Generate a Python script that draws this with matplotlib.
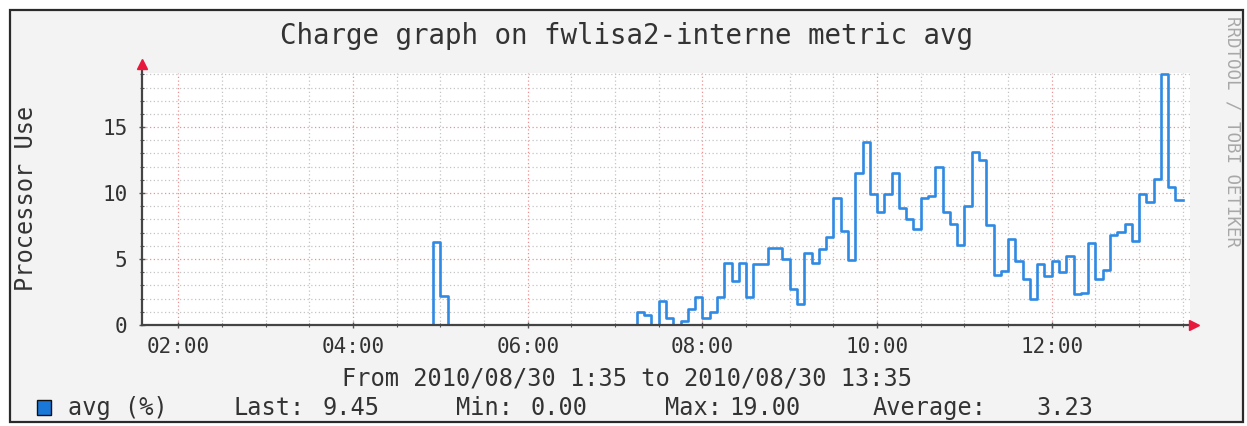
import matplotlib
matplotlib.use('Agg')
import matplotlib.pyplot as plt
from matplotlib.patches import Rectangle
from matplotlib.ticker import MultipleLocator, FixedLocator

# rrdtool "avg" series, one value per 5-minute step starting 2010/08/30 01:35
start_hour = 1 + 35 / 60
step_minutes = 5
avg_values = [
    0, 0, 0, 0, 0, 0, 0, 0, 0, 0,
    0, 0, 0, 0, 0, 0, 0, 0, 0, 0,
    0, 0, 0, 0, 0, 0, 0, 0, 0, 0,
    0, 0, 0, 0, 0, 0, 0, 0, 0, 0,
    6.3, 2.2,
    0, 0, 0, 0, 0, 0, 0, 0, 0, 0,
    0, 0, 0, 0, 0, 0, 0, 0, 0, 0,
    0, 0, 0, 0, 0, 0,
    1.0, 0.75, 0.0, 1.8, 0.5, 0.0, 0.3, 1.2, 2.1, 0.55, 1.0, 2.1,
    4.7, 3.35, 4.7, 2.1, 4.6, 4.6, 5.8, 5.8, 5.0, 2.7, 1.6,
    5.45, 4.67, 5.77, 6.7, 9.6, 7.15, 4.9, 11.5, 13.9,
    9.95, 8.55, 9.95, 11.5, 8.9, 8.05, 7.3, 9.6, 9.75, 12.0,
    8.55, 7.65, 6.1, 9.05, 13.1, 12.5, 7.55,
    3.8, 4.1, 6.5, 4.85, 3.5, 1.95, 4.6, 3.75, 4.85, 4.0, 5.25, 2.35, 2.45,
    6.2, 3.5, 4.15, 6.8, 7.05, 7.65, 6.4, 9.95, 9.3, 11.1, 19.0, 10.45, 9.45,
]

x_ticks = [2, 4, 6, 8, 10, 12]
x_labels = ['02:00', '04:00', '06:00', '08:00', '10:00', '12:00']
y_ticks = [0, 5, 10, 15]

title = 'Charge graph on fwlisa2-interne metric avg'
period = 'From 2010/08/30 1:35 to 2010/08/30 13:35'
# (text, x in px, alignment) for the legend row
legend_items = [('avg (%)', 68, 'left'), ('Last:', 233, 'left'), ('9.45', 380, 'right'),
                ('Min:', 456, 'left'), ('0.00', 588, 'right'), ('Max:', 665, 'left'),
                ('19.00', 800, 'right'), ('Average:', 873, 'left'), ('3.23', 1093, 'right')]

W, H = 1247, 426
mono = 'DejaVu Sans Mono'
txt = '#333333'
line_blue = '#2f8ae4'
arrow_red = '#e8183c'


def fx(x):
    return x / W


def fy(y):
    return 1 - y / H


fig = plt.figure(figsize=(W / 100, H / 100), dpi=100, facecolor='white')
# grey canvas with dark frame, like the screenshot
fig.patches.append(Rectangle((fx(10), fy(422)), fx(1243) - fx(10), fy(10) - fy(422),
                             transform=fig.transFigure, facecolor='#f3f3f3',
                             edgecolor='#2a2a2a', linewidth=1.6, zorder=-10))

ax = fig.add_axes([fx(142), fy(325), fx(1190) - fx(142), fy(73) - fy(325)])
ax.set_facecolor('white')

times = [start_hour + i * step_minutes / 60 for i in range(len(avg_values) + 1)]
ax.plot(times, avg_values + [avg_values[-1]], drawstyle='steps-post',
        color=line_blue, lw=1.9, zorder=3)

ax.set_xlim(start_hour, 13 + 35 / 60)
ax.set_ylim(0, 19.1)

ax.xaxis.set_major_locator(FixedLocator(x_ticks))
ax.xaxis.set_minor_locator(MultipleLocator(0.5))
ax.set_xticklabels(x_labels)
ax.yaxis.set_major_locator(FixedLocator(y_ticks))
ax.yaxis.set_minor_locator(MultipleLocator(1))

ax.grid(which='minor', color='#c4c4c4', linestyle=(0, (1, 2)), lw=0.9)
ax.grid(which='major', color='#f09090', linestyle=(0, (1, 2)), lw=0.9)
ax.set_axisbelow(True)

for s in ax.spines.values():
    s.set_visible(False)

ax.tick_params(which='both', color='#555555', direction='inout', labelcolor=txt)
ax.tick_params(which='major', length=5, width=1)
ax.tick_params(which='minor', length=3, width=0.8)
ax.tick_params(axis='x', pad=6)
ax.tick_params(axis='y', pad=8)
for lab in ax.get_xticklabels() + ax.get_yticklabels():
    lab.set_fontfamily(mono)
    lab.set_fontsize(15)

# axes with rrdtool arrows
ax.plot([0, 0], [0, 1.035], transform=ax.transAxes, color='#444444', lw=1.6,
        clip_on=False, zorder=4)
ax.plot([0, 1.004], [0, 0], transform=ax.transAxes, color='#444444', lw=1.6,
        clip_on=False, zorder=4)
ax.plot([0], [1.035], transform=ax.transAxes, marker='^', color=arrow_red,
        markersize=7, clip_on=False, zorder=5)
ax.plot([1.004], [0], transform=ax.transAxes, marker='>', color=arrow_red,
        markersize=7, clip_on=False, zorder=5)

fig.text(fx(626), fy(36), title, family=mono, fontsize=19.8, color=txt,
         ha='center', va='center')
fig.text(fx(26), fy(198), 'Processor Use', family=mono, fontsize=17, color=txt,
         ha='center', va='center', rotation=90)
fig.text(fx(627), fy(378), period, family=mono, fontsize=17, color=txt,
         ha='center', va='center')
fig.text(fx(1232), fy(132), 'RRDTOOL / TOBI OETIKER', family=mono, fontsize=12.5,
         color='#a8a8a8', ha='center', va='center', rotation=270)

fig.patches.append(Rectangle((fx(37), fy(415)), fx(14), 15 / H,
                             transform=fig.transFigure, facecolor='#1a78d8',
                             edgecolor='#111111', linewidth=1.0, zorder=2))
for label, x, align in legend_items:
    fig.text(fx(x), fy(408), label, family=mono, fontsize=17, color=txt,
             ha=align, va='center')

fig.savefig('out.png', dpi=100, facecolor=fig.get_facecolor())
